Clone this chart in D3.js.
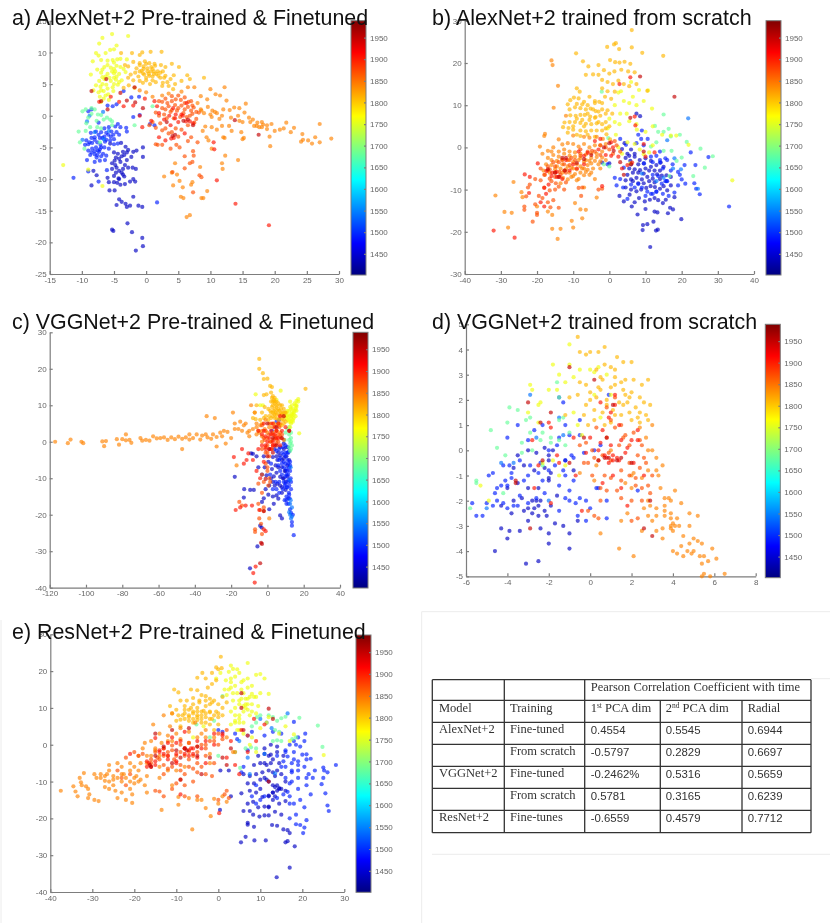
<!DOCTYPE html>
<html>
<head>
<meta charset="utf-8">
<title>PCA scatter plots</title>
<script src="https://cdn.jsdelivr.net/npm/d3@7"></script>
<style>
  html, body { margin: 0; background: #fff; }
  svg { display: block; filter: blur(0.55px); }
  .axis path, .axis line { stroke: #7d7d7d; stroke-width: 1.2px; }
  .axis text { fill: #666; font: 8px "Liberation Sans", sans-serif; }
  .title { font-family: "Liberation Sans", sans-serif; fill: #111; }
  .serif { font: 12.5px "Liberation Serif", serif; fill: #333; }
  .num { font: 11.4px "Liberation Sans", sans-serif; fill: #333; }
</style>
</head>
<body>
<svg id="chart" width="830" height="923"></svg>
<script>
// year of each colour group, same for all five scatter plots
const groupYears = [1440, 1490, 1540, 1680, 1760, 1810, 1840, 1870, 1905, 1950];
const colorbarTicks = [1450, 1500, 1550, 1600, 1650, 1700, 1750, 1800, 1850, 1900, 1950];

// a) x,y pairs per colour group
const alexFine = [
 [-5.3,-18,-5.1,-18.2,-2.9,-17,-2.2,-18.4,-0.6,-19.3,-0.5,-20.6,-1.6,-21.3,-4.6,-14.1,-3.8,-13.6,-3.2,-13.9,-3,-14.4,-2.5,-14.2,-1.2,-14.2,-0.6,-14.4,-2,-12.8,-4.2,-13.2,-4.9,-11.8,-5.7,-11.8,-4.5,-10.6,-4,-10.9,-3.3,-10.8,-2.5,-10.4,-2,-10,-1.7,-10.4,-5.8,-10.5,-5,-9.5,-4.3,-9.9,-3.4,-9.6,-5.3,-8.4,-4.6,-8.2,-3.6,-8.4,-2.8,-8.2,-2.1,-8.2,-1.6,-8.4,-4.9,-7.1,-4,-7.3,-3,-7,-2.3,-6.5,-4.4,-6,-3.6,-5.7,-2.8,-5.4,-1.5,-5.5,-0.5,-5,-0.5,-6.5,-3.9,-4.3,-3.2,-4.9,-5,-5.8,-5.6,-4.4,-2,-5.7,-8.5,-11,-7.7,-9.4,-6,-9.8,-8.2,-8.7,
  -4.7,-6.6,-4.2,-6.8,-3.8,-6.4,-3.4,-6.2,-3,-5.8,-5.3,-7.5,-4.8,-7.8,-4.2,-8.7,-3.8,-9,-4.2,-10,-3.6,-9.3,-4.7,-9,-5,-10.5,-3.3,-7.8],
 [-11.3,-9.8,1.7,-13.7,-9,-8.8,-7.4,-10.4,-6.1,-8.6,-8,-7.3,-7.2,-7.1,-6.4,-7,-9.2,-7,-8.7,-6.2,-8,-6.1,-7.6,-6.2,-7.3,-5.7,-6.7,-6,-9,-5.5,-8.4,-5.2,-7.8,-5,-7.2,-5.3,-6.5,-5,-5.8,-5.2,-9.5,-4.6,-9,-4.5,-8.4,-4.3,-7.6,-4.2,-7.1,-4.6,-6.4,-4.1,-5.6,-3.9,-5,-3.7,-9.3,-3.9,-8.5,-3.5,-8,-3.4,-7.2,-3.5,-6.5,-3.3,-5.9,-3,-5.1,-3,-4.2,-3,-8.6,-2.7,-7.8,-2.5,-7,-2.6,-6.2,-2.7,-5.4,-2.5,-4.6,-2.6,-3.1,-1.9,-8.5,1,-9,0.7,-6,1.6,-5.2,1.5,-4.6,1.8,-3.5,3.9,-2.3,2.9,-1.1,3,-7.4,-1.1,-4.4,-1.3,-2,-0.2,-1,0.1,0.6,-1.3,1.3,-1.5,
  -8.5,-5.8,-8,-5.6,-7.5,-5.5,-7,-5,-7.7,-6.6,-7,-6.4,-6.2,-6.3,-8.8,-4.2,-8,-3.8,-7.4,-3,-6.8,-3.5,-6.2,-3.8,-5.5,-3.3,-5,-4.5,-4.4,-4.4,-6.5,-2,-5.8,-1.8,-4.8,-1.7,-4,-1.8,-3,-2.5],
 [-8.8,0,-9.2,-0.9,-6.7,0.6,-8,-2.6,-6.6,-3.7,-5.8,-2.4,-9.9,-3.8],
 [-10.3,-4.2,-10.5,-2.5,-9.9,0.7,-9.4,1,-9,-0.3,-8.5,1.2,-8,1,-8.5,0.3,-7.5,0.2,-7,0.1,-7.7,-0.8,-6.6,-0.6,-6.1,-0.3,-5.6,-0.6,-5.3,-0.9,-9.4,-2.4,-8.7,-1.8,-7.6,-1.8,-7,-2,-5.3,-1.5,-9.3,-1.2,-9.6,-5.2,-7.2,-4.2,-1.8,-1.5,1,1.5],
 [-12.9,-7.8,-6.8,-11.1,-9,-8.5,-6.8,12.3,-5.3,12.9,-2.8,12.6,-7.3,11.4,-5,10.5,-4.6,11.1,-5.6,10.4,-7.8,9.9,-7.4,9.5,-6.3,9.9,-8.3,8.6,-7,8.8,-6,8.7,-5,8.4,-4,9,-3,8.9,-6.5,7.7,-5.5,7.6,-4.6,7.9,-3.5,7.4,-7.6,7.3,-8.6,6.5,-7,6.8,-6,6.6,-5,6.7,-4.2,6.6,-3.2,6.9,-6.5,5.8,-5.5,5.5,-4.7,5.7,-3.8,5.6,-7.3,5.5,-7.8,4.8,-7.1,4.6,-6.2,4.9,-5.2,4.5,-4.4,4.9,-7.4,3.7,-6.6,3.9,-5.9,3.4,-8.2,4,-7.2,3,-6.6,2.7,-7,2.2,-5.8,2.5,-5.1,3.9,-6.3,6.2,-5.3,7,-4.6,6.2,-6.8,7.3,
  -6,8,-5,7.4,-4.8,7,-4,7.7,-6.8,6.1,-5.7,6,-5,6,-4.2,5.3,-6.8,5,-6,4.3,-5,5,-7,4,-6.3,3.2,-5.2,8.8,-4.5,8.9],
 [-3.9,9.9,-2.2,9.9,-1,9.6,-0.6,10,0.7,10.1,2.4,10.1,-2,8.5,-1,8.3,-0.2,8.6,0.5,8.3,1.3,8.2,2.3,8,3,7.7,4,8.2,5.1,7.7,-2.4,6.5,-1.5,7.5,-0.7,7.1,0.2,7.5,1,7.4,1.8,7,2.6,7,-2,5.6,-1.2,6.2,-0.3,6.5,0.5,6.3,1.2,6.6,2.2,6,3,6.3,3.8,5.8,-2.7,4.8,-1.8,4.4,-0.5,5.2,0.6,5,1.5,5.3,2.5,4.7,3.5,4.7,4.5,5,6.4,6.4,6.8,5.8,9,6,-0.4,7.8,0.7,7,1.4,7.9,-1,7,0,6,1.9,6.3,-3.5,4.4,
  -1,8,-0.4,7.4,0.2,7,0.8,7.7,1.2,7,0,8.2,-0.5,6.7,0.4,6.6,1,6.2,1.6,6.6,2.2,6.8,2.8,6,-1.7,6.8,-2.8,7.8,-2.8,6,-3.3,8,2.6,5.2,3.3,5.3,4.3,6.4,1,5.6,0,5.6,-1,5.5,4.2,4.2,5.5,5.5],
 [8.5,3.1,9.5,2.6,10,4.2,10.8,3.4,11.5,3.2,12.2,4.5,12.5,2.4,10,0.2,9.6,1.4,10.3,0.8,11,0.4,12,1,11.8,0,13,0.9,13.7,1.3,14.5,1.2,15.5,1.9,14.3,0,15.3,0.5,16,-0.3,16.6,-0.6,17.3,-1.1,18,-1,18.8,-1.5,19.5,-1.3,16.8,-1.6,17.6,-1.8,18.8,-2.1,20,-2.4,20.8,-2.2,21.4,-2,21.8,-1.1,22.5,-2.6,23,-1.9,24.3,-2.9,24.1,-4.1,24.4,-3.8,25.2,-3.9,25.8,-4.4,26.3,-3.4,27,-4.2,27,-1.3,28.8,-3.6,19.2,-3.3,19.3,-4.8,15.2,-3.5,15,-3.7,14.8,-2.6,13.3,-2.4,12.9,-1.6,11.8,-1.6,11,-2.2,10.2,-1.8,9.2,-1.7,8.8,-2.4,9.4,-3.4,9.7,-3.9,10.2,-5.2,12,-3.4,12.2,-3.5,12.3,-6.3,11.8,-7.5,11.9,-8.4,14.3,-7,8,2,8.5,1,7.5,4.5,6.5,4.5,5.5,3.8,3.5,3.5,2.5,3.2,6.3,-16,6.8,-15.7,2.8,-9.6,4.5,-7.5,4,-9,4.8,-9.3,5.2,-10.3,4.2,-11,5.7,-11.3,5.4,-12.8,5.8,-13,8.6,-13,8.9,-13,9.5,-11.9,7.2,-10.5,7,-10.9,8.4,-8.1,
  8.6,0.8,9,0.4,10.2,-0.2,10.7,0.6,11.4,-0.5,13.2,-0.3,14.5,-0.8,15,-1,16.2,-1,17.2,-1.6,18,-1.8,18.2,-1.4,-1,4,0,3.7,1,3],
 [0.5,-1.5,1.5,-1.9,2.5,-2.3,3.5,-2.8,4.6,-2,5.5,-2.2,6.5,-1.5,7.5,-1.1,2,2.3,3,2.7,4,3.1,5,3.2,6,2.9,7,2.3,2.5,1.2,3.5,1.5,4.5,1.7,5.5,1.6,6.5,1.4,7.4,1.3,8.2,0.5,1.5,0.5,2.8,0.2,3.8,0.6,4.8,0.8,5.8,0.4,6.8,0,7.8,-0.5,1.8,-4.6,2.5,-4.6,1.5,-4.5,3.8,-5.2,4.7,-4.6,5.2,-5,6,-6.4,7.3,-5.6,7.2,-7.3,6.8,-7.5,7.4,-6.3,8.3,-9.4,8.6,-9.7,6,-8.3,4.1,-8.9,7.3,-12.1,6.5,-4,7,-3.4,8,-4.2,
  2.5,2.2,3.3,2,4,2.3,4.6,2.6,5.4,2.5,6,2,6.6,2.2,7.2,1.6,3,1,4,0.9,5,1.2,6,1,7,0.8,2,0,3.2,-0.4,4.3,-0.4,5.3,-0.2,6.3,-0.2,7.2,0.3,7.8,0.6,1,-1,2.2,-1.2,3,-2,4,-2.6,5,-3.3],
 [19.1,-17.3,13.9,-13.9,11,-10.2,10.6,-5.3,10.5,-4.2,5,-1,5.5,0.2,6.2,-0.9,4.5,-0.4,3.8,-1.5,6,-2.8,2,-3.4,3,-3.9,1.7,1.5,1.3,2.3,-0.2,2.7,-2,1.6,-3.5,1.5,-4.2,2.2,-5.5,3,-7.3,2.2,-1,0,0.8,-0.8,
  3.6,0,4.6,0.2,5.7,0,6.8,-0.9,7.3,-1.2,2.8,-0.6,6.3,2,4.2,1.2,-0.6,-1.8,2,0.4,4.3,-3.5,3.9,-3.6],
 [-8.5,3.9,-6.2,5.8,-7,2.3,-1.7,2.1,-0.5,1.2,3.2,-1,4.1,-3.2,4.5,-3,5.8,-0.8,6.5,-0.6,7.3,-1.5,13.8,-0.7,17.5,-3,-1.8,4.5,-4,3.6,-3,2.4,-6,1]
];

// b)
const alexScratch = [
 [11.3,-23.6,9.2,-19.6,9.3,-18.4,10.5,-18.2,12.2,-17.6,12.9,-19.7,13.4,-19.5,7.8,-15.9,10,-14.6,12.5,-15.2,13.3,-15.4,16.2,-15.6,16.8,-14.3,17.6,-14.7,19.9,-17,8.2,-12,9.8,-12.8,11.2,-12.4,12.5,-12,13.5,-12.5,14.8,-13.2,15.6,-12.4,5.6,-11.2,6.2,-14,7,-13,4,-12.8,2.8,-11.5,4.5,-9.5,6,-10,7.5,-10.4,8.8,-10,10.2,-9.6,11.4,-9.2,12.6,-9.4,14,-9.8,15,-9.2,16,-10.2,17,-9,18,-11.8,4.5,-7.8,6,-7.6,7.5,-7.2,9,-7.6,10.5,-7,12,-7.4,13.2,-6.4,14.5,-6.7,15.8,-6.6,17,-7,5.5,-5,7,-5.2,8.5,-5.4,10,-5,11.5,-4.6,13,-4.2,14.2,-3.6,15,-4.6,4.5,-2.5,5.8,-3.2,7,-2.2,8.4,-3,10,-2.6,6,-0.5,3.5,-0.4,4.2,1,-2,-3.6,0,-3.8,7.5,8,8.5,7.4,
  6.5,-8,8,-8.5,9.5,-8.5,11,-8,12.5,-8.3,14,-7.5,5,-6.5,6.5,-6,8,-6,9.5,-6.2,11,-5.5,12.5,-5.5,14,-5.5,6,-4,8,-4,9.5,-3.8,11.5,-3.2,5,-1.5,7,-1.5,5.5,-2],
 [33.1,-14,2,-9,3,-7.5,1.5,-7.2,3.8,-9.5,5,-12.2,6,-8.8,8,-8.7,10,-11.5,11.5,-11,13,-10.5,14.8,-11,16.4,-11.5,18,-10.7,19,-9,20,-7.6,21,-8.6,23.5,-8.5,24,-9.8,25,-11.1,16,-8,19.5,-6.5,20.8,-4.2,19,-5.8,17.5,-4,15.5,-2.6,23.8,-4.2,27.4,-2.3,22.5,-1.2,14,-3,11.5,-2.2,9.5,0.5,8.8,2,10.6,2,9,4,14,-3.6,3,2,4.6,0.6,9.6,-3.8,-0.5,-4,4,-4.8,
  13,-10.5,15.5,-8,12,-11,10.5,-10.5,17,-5.5,15.8,-8,14.5,-8.6,7,-9.5,9,-9.5,12,-6.5,13.5,-6.8,14.8,-5,16,-3,13,-2,14,-1,12,-3.5,7.5,1,8,3],
 [21.8,6.9,24.5,-9.8,15,-7.2,13,-8,9,-6.2,16,1.7,18,-2.6,17.6,-5,19.8,-5.2],
 [28.6,-2.1,26.4,-4.8,25.2,-0.3,23.2,-6.8,21.4,1.3,19.5,3,16.4,4.4,15,7.8,15,3.7,13.5,3.7,12.6,5.1,17,2.6,17.2,-0.8,20,-2.4,18.6,-3.2,15,-0.8,13,1.2,11.5,0.2,16.6,-6.8,-1.5,-4,-0.3,2.2,-2.1,13.2,0,-4.5],
 [34,-7.8,21.9,0.6,18.5,2.8,17,2.8,14.6,3,12,5,10,3.7,12,0.5,11,-1.2,9.5,-1.6,8.4,-0.5,7,0.8,5,1.2,3.5,-1.5,2.5,0,5.8,-3.8,11.8,9.2,10.7,13.5,9.5,11,8.2,13.6,7.5,10,6.5,12,5.5,10.5,4,11,3,8,2.5,13,1.5,10,2.8,5.5,4.8,8,5.5,6.2,7.5,5.5,1.5,6,0,6.8,-0.5,4.5,1.8,3,7.6,4.2,3.2,13.3,6,15.5],
 [0.2,1.9,1.3,24.4,1.8,24.7,-0.6,23.8,2.7,23.3,6.2,27.8,6.2,23.7,9.1,22.4,14.9,21.7,-9.2,22.3,-7.3,20.4,0.2,20.7,1.6,20.2,2.8,20.1,4.2,20.3,5.8,19.8,-5.8,19.2,-3,19.5,-1.5,18.3,0,17.5,1.4,18,3.3,18.4,5.2,18,7,17.8,-6.5,17.2,-4.5,17.3,-3,17.2,-2,16,-0.5,15.5,1,15,2.5,15.8,4,15,5.5,14.5,7.5,15,10.5,13.4,-9,14,-8.2,13.2,-2,14,-0.5,13.3,1.5,13.2,-1.2,12,0.5,11.5,-2.8,10.8,-4,11,-5.5,12,-7,10.8,-8.5,11.6,-9.8,11.8,-10.8,11.2,-11.5,10.2,-11,9,-9.5,9.5,-8,9.3,-6.5,9,-5.2,9.2,-3.8,8.6,-2,9,-0.5,8.8,-10.8,7.6,-9.3,7.5,-8,7.7,-6.8,7.7,-5.3,7.3,-3.8,7.2,-2.5,7.5,-11,6,-12.4,5.9,-9.5,6,-8,5.8,-6.5,5.6,-5,5.5,-3.5,5.7,-2,5.5,-12.8,4.8,-11.3,4.6,-10,4.2,-8,4,-6.5,3.8,-5,4,-3.5,4,-2,4,-0.8,3.1,
  -10,5,-11.5,3.5,-9,3,-7,5,-5.5,6.5,-4,7,-3,6,-1,6,-7.5,6.5,-9,6.8,-6,8,-4.5,9,-3,8.5,-6,10,-7.5,10.2,-9,10.3,-4,10.5,-2,10.5,-1,8,0.8,8,0,5,-1,4.5,-4,2.5,-6,3,-8,2.7],
 [-16,20.6,-15.7,19.5,-14.2,14.6,-15.4,9.4,-12,7.5,-10,2.8,-7,2.5,-5.5,2.3,-3.5,2.5,-1.8,2,-17.8,3.2,-18,2.7,-19.2,0.2,-17,-0.8,-15.5,0,-14,1.9,-13,0.7,-11.5,1,-10,0.8,-8.5,0.2,-7,0.8,-5.5,0,-4,0.5,-2.5,0.5,-1,0.8,-18.5,-1.5,-17,-2.5,-15.5,-1.8,-14,-1,-12.5,-1.5,-11,-1,-9.5,-1.2,-8,-1.5,-6.5,-1.7,-5,-1.4,-3.5,-1.5,-2,-1,-17.5,-4,-16,-4.2,-14.5,-3.2,-13,-2.9,-11.5,-3,-10,-3.5,-8.5,-3,-7,-3.4,-5.5,-3.2,-4,-3.2,-2.5,-3.3,-18.2,-5.5,-16.5,-6,-15,-5.2,-13.5,-5,-12,-5.2,-10.5,-4.8,-9,-5.2,-7.5,-5,-6,-5.3,-4.5,-5,-2.5,-5,-12.8,-7.2,-11.5,-7.6,-10,-6.8,-8.5,-7.5,-7,-6.6,-5.5,-6.5,-4,-7.5,-13.5,-8.5,-7,-9.5,-3.5,-11.9,-9.5,-13.2,-8,-14.7,-6.5,-14.8,-7.5,-16.8,-24,-11.8,-24.3,-10.6,-31.5,-11.4,-26.5,-8.2,-29,-15.3,-27,-15.5,-28,-19,-15.8,-16,-15.8,-19.3,-14.3,-21.7,-13.5,-19.3,-10.4,-17.4,-10,-19,-17,-15.2,-20,-14,
  -16,-3,-14.5,-4.5,-13,-4,-11.5,-4.5,-10,-5,-9,-4,-8,-4.5,-7,-5,-6,-4.2,-5,-3.8,-16,-1,-14,-2.2,-12.5,-0.5,-11,-2,-9.5,-2.2,-8,-2.5,-6.5,-3,-5,-2.5,-3.5,-2.3,-2,-2.4,-13,-6,-11,-6,-9.5,-6.3,-8,-6,-6.5,-5.8,-5,-6,-10.5,-7,-9,-7.8,-3,-4,-1,-3],
 [-23,-11.6,-23.5,-14.8,-23.5,-14,-20.5,-13.5,-20,-15.5,-21.2,-17.6,-20,-16,-18.5,-12,-17,-13,-16.3,-14.2,-15.5,-12.5,-14,-14.3,-19.5,-11.5,-18,-9.5,-16.5,-10.2,-15,-10,-14,-9.3,-12.5,-10,-8.5,-9.6,-7.5,-9.5,-7.8,-11.5,-3,-10,-2,-9.8,-19,-7.8,-17.8,-6.5,-16.5,-7.4,-15,-7,-13.5,-6.5,-12,-6,-11,-4.2,-19,-5,-17,-5.5,-15,-4.5,-12.5,-4,-10.5,-2.5,-8,-0.5,-4.8,-0.8,-2.5,-1.8,3,-1,1.5,1.5,-22.5,-9.5,-20.5,-7.5,-22,-8.8,
  -18,-6.5,-16.5,-5.2,-15,-6,-13.8,-5.8,-12.5,-5.5,-17,-4.5,-15.5,-3.5,-14,-3.5,-13,-3,-11,-3,-9.5,-3,-8,-2,-6,-1,-4,-1,-2.5,0.5,-1,0,1,-1.5,0,-0.5,2,0.5,-16,-8,-14.8,-8.5,-12,-8.3],
 [-32,-19.7,-26.2,-21.4,-23.4,-6.4,-22,-7,-22.2,-10.8,-19.8,-3.8,-17.4,-5.6,-16.8,-8.8,-15.8,-6,-14.6,-5.8,-13.8,-7,-12,-3,-10,-4,-8.5,-1,-7,-2,-2,-9.2,-1,-1.8,1,0,0.5,-2,2.8,15,5.8,16.6,-4,1.5,-2.5,2,0.5,1.2,2.5,-2.2,5,-4.2,3.5,-5,6.3,-3.6,7.2,5.2,7,7.3,9.5,0.8,12.5,-1.2,10,-2.2,
  -16,-6.8,-14.5,-7,-13,-7.5,-11,-5.5,-9,-5,-7,-4,-6,-1.3,-3,-0.5,-18,-9.6,-17.5,-11,-19,-13,-18,-14],
 [18,12,5.8,7,8.5,16.8,-14,-7,-15,-6,-12.3,-5.5,-13,-2.5,-7,-2.8,-5,-1.8,-1.5,0,0,1,1.2,-0.8,3,-3.5,4,-6.5,6,-4,9.5,-1,-12,-2.5,-9,-3.7,-17,-5.2]
];

// c)
const vggFine = [
 [-5.5,-28.7,-9.6,-34.7,-9.5,-13.2,-18,-9.6,-12.8,-13,-13,-15.3,-7.5,-13.2,-4,-23,-3.2,-23.5,-2,-15.5,-1,-13,0.5,-14.5,1,-12,3,-15,5,-14.7,6,-15.6,8,-12.5,10,-13.2,2,-10,3.5,-9.5,5,-8.5,7,-9.6,8.5,-10,10,-11,-0.5,-9.2,-3,-9,-1.5,-7,0.5,-5.5,2.5,-7.5,4.5,-6.5,6,-7,8,-7,9.5,-8,11,-6.5,3,-4.2,5,-4,7,-3.8,9,-4.5,10.5,-4,12,-5,7,-20.2,8,-21,1,-18.5,3.5,-17,-3,-16.5,-9,-3.2,-8,-3.3,-6,-4,-5,-7,-2,-4,
  3,-11,4,-12,5.5,-11.5,7,-12,8,-14,9,-10,10,-8,11,-9.5,8,-5,9,-2,5.5,-5,6,-3,4,-2,7,-1.5,9,-0.5,10.5,-1.5],
 [14.5,-25.6,13.5,-23,13.5,-22,14,-20,13,-19.5,12.5,-18.5,11.6,-17,12.2,-15.5,11.8,-14,13,-13,12,-12,13,-11,11.5,-10.5,12.8,-10,11.5,-9,12.5,-8,11,-8,10.5,-7.5,12,-7,10,-6,11.5,-6,12.5,-5.5,9,-5.5,10,-3,11.5,-3,8,-3,6.5,-2,8.5,-1.5,10,-1,11.5,-1.5,6.5,-5,8.5,-13,9.5,-16,10.5,-17,10.5,-15,11,-12.5,9.5,-12,10,-9.5,8,-9,6.5,-11,4.5,-11,5,-13,3,-13,6.5,-14,1.5,-9,2,-6,2.5,3,5,5.5,6.5,6,
  11,-3,12,-2.5,10,-4,11,-5,12.5,-6.5,9,-7,10.5,-9,11.5,-11,10,-11.5,9,-11,10.5,-12.5,12,-14.5,11.5,-15.5,10.5,-16,7,-8,8,-6,9,-3.5,5,-2.5,7,-4.5,6,-6.5],
 [13,-21,13.5,-20.5,12.5,-20,12,-19.3,13.5,-18,12.5,-17,12.8,-16,12.5,-10.5,12.8,-7],
 [12.5,-2.5,13,-2,12,-1.5,13.5,-1,13,0,12,0.5,13,1,12,2,13,2.5,12.5,-0.5,11,3.5,12,4,9.5,0.5,10,2.5],
 [14.5,8,15.5,9,16,10,15,10.5,13.5,7,14,6,13,5,12,6,11.5,7.5,12,8.5,13,9,13.5,8,14.5,6.5,12.5,4,17.5,2.3,17,11.7,13.5,10,12.5,11,11,7,10,7,10.5,8,14,5.5,15.5,7,17,11,16,11.2,-6.5,13,-2.5,10,-4,10,7.3,14,5,11.5,
  13,6.5,13.5,7.5,14.5,7.5,15,8.5,15.5,10,16,9.5,12.5,7,12,5.5,11,6,12.5,9.5,14,9,11,8.5,10.5,6.5,13,5.5,16,8.5],
 [-4.5,22.7,-4.5,20,-2.5,18.8,-2,17.2,0,17.3,21,14.5,1.5,15.3,2.5,15,2,13.5,-0.5,13,-2,12.8,2.5,12,3.5,11.5,4,10.5,5,11,2,11,3,10,4,9,5,9.5,6,9,7.5,9,5,7.5,6.5,7.5,8,7.5,3,8,1.5,8.5,0.5,9,-1.5,9.5,-3,8,-6,10,-7,8,-8,6.5,-6.5,6.2,-4,6,8,10,9,9,10,8,2,6.5,4,6.5,6,5,8,6,9,6,10,5.5,3.5,5,-3,5,-1,7,1,7,
  3,12.5,4,12,2.5,9.5,3.5,8.5,4.5,8,5.5,8.5,6.5,8.5,7.5,8,8.5,8,7,6.5,6,6,5,6.5,4,7.5,3,7,2,8,0.5,6,-2,6.5,9,7,9.5,8,7,10,6,10.5,5,10,4,11,3,11,9,5,8,4.5,7,4.5],
 [-117,0,-110,-0.4,-108.5,0.6,-102.5,0,-101.5,-0.4,-91,0.1,-90,-1.2,-89,0.2,-83,0.7,-81.8,-0.8,-80,0.7,-78,2,-78,0.4,-76,0.5,-75,-0.3,-70,1,-69,0.3,-67,0.5,-65,0.3,-63,1.5,-61,0.9,-59,1,-57,1.2,-55,0.5,-53,1.2,-51,0.7,-49,1.4,-47,0.8,-47,-2,-45,1.2,-43,0.6,-43,2,-41,1,-39,2,-37,0.6,-36,1.7,-34,2,-33,1.2,-33.5,7,-31,0.8,-30,2,-29,6.5,-28,1.3,-28,-1.3,-26,2.5,-25,1.5,-24,3,-23,-0.5,-22,2.7,-20,1,-19,8,-18,3.5,-18,5,-17,-6.5,-16,3.5,-15,5.5,-14,3,-13,4.5,-12,5,-11,2.5,-10,1.5,-9,10,-8,3.5,-7,8,-6,5,-5,3,-3,3,-1,6,1,4,3,2.5,5,3,7,2.5,-3,0,1,-21,
  -6,2,-4.5,2.5,-3,1.5,-1.5,3.5,0,2.5,1,5,3,4,5,4.5,7,5,-10,3,-6,4,-4,4.5],
 [-1,-1.5,0,-3,-1.5,0.5,0,1,1.5,0,3,0.5,4.5,1.5,6,0,7.5,1,9,0.5,-3,-14,-5,-11.5,-3,-9,0,-7,1,-10,0.5,-12,3,2,5,3,6.5,4,-3,4.5,-1,3,2,5,-5,-17,-4,-18.7,-4.5,-21,-3.5,-22.5,-6.8,-24.7,-6.8,-24,-3,-25.3,-15.5,-16.5,-14,-17.5,-2,-19,-2,-18,
  -1,-3,0,-1,1,2,2,0,3,-1,4,1,5,-0.5,6,2,7,1.5,8,2,-2,1,-3,-2,-1,-6,1,-4,2.5,-2,0,-8,-2,-11,1.5,-11,5,0.5],
 [-7,-38.6,-7.8,-36,-6.5,-34.2,-17.5,-18.7,-15,-18,-12,-17.5,-8.5,-17.5,-4.5,-18.7,-1,-24.5,-2,-24,-18.5,-4.2,-11.5,-5,-13,-6,-10.5,-3.2,-14,-2,-5,-2,-3,-1,-1,-2,1,-2,3,-1,5,1,7,-1,-3,2,-1,1.5,2,3,4,4,6,5,8,3,10,4,12,3,-5,3,-2,5,7,7,-8,-5,-6,-8,-4,-10,-2,-5.5,
  0,0,2,-2,3,0,4,2,5,3,6,1,-1,-1,1,1,-2,3,2,2,4,-1,3,5],
 [-4,-33.3,-3,-28,-3.5,-27.7,-1,-10.2,0,-4,1,-2,3,-3,5,-1,8,1,9,7,12,3,-2,-19,0,5,5,4,3,1]
];

// d)
const vggScratch = [
 [-3.1,-4.5,-2.5,-4.4,-4.6,-4,-4,-3.5,-2,-3.7,-1,-3.9,-3.9,-3.2,-3.4,-3.2,-2.4,-3.1,-2,-3.3,-1,-3.3,-1.3,-3,-4.3,-3.1,-3,-2.8,-1.7,-2.9,-0.6,-2.8,-3.8,-2.5,-3.2,-2.4,-2.8,-2.5,-2.5,-2.2,-2.1,-2.6,-3.7,-2,-3.3,-1.9,-2.8,-2,-2.4,-2,-1.9,-2.2,-4.3,-2.2,-4,-1.5,-3.5,-1.3,-3,-1.5,-2.5,-1.5,-2,-1.2,-1.6,-1.8,-3.7,-0.7,-3.2,-0.6,-2.7,-0.8,-2.2,-0.7,-2,-0.4,-3.5,-0.2,-3,0,-2.6,-0.1,-2.2,0.1,-1.8,0,-1.2,-0.4,-0.8,-0.8,
  -2.7,-2.3,-2.5,-2.6,-2.2,-2.4,-2,-1.1,-1.9,-0.9,-2.6,-2,-3,-2.3,-2,-0.2],
 [-5.7,-2.1,-5.5,-2.6,-5.2,-2.6,-5,-2.1,-4.7,-2.2,-4.5,-2,-4.2,-2.1,-4.6,-1.7,-4.3,-1.4,-4.5,-1.5,-4.9,-1,-4.7,-0.9,-4,-1.4,-3.8,-1.1,-4.2,-0.6,-3.9,-0.6,-3.4,-0.4,-3,-1,-2.5,-0.9,-2,-0.8,-1.5,-1.4,-1,-1.6,-0.5,-1.9,-0.2,-2,0.3,-1.5,-1.5,-2.4,-1,-2,-0.6,-2.6,-0.2,-2.8,0,-2.3,0.4,-1.5,0.8,-2,0.8,-2.7,-1.2,-0.4,-0.8,-0.3,-0.3,-0.1,0.2,0,0.5,0.2,-1.5,0.5,-1,0.6,-0.5,0.6,-3,0.4,-2.7,0.8,-2.3,1,-3.5,1,-4,0.5,-1.2,1,-0.5,1.2,-1.5,2.1,-1.3,1.9,0.9,2.2,-1.2,-1,2.3,-1.6,-0.8,-1.2,
  -3.5,-2.2,-3,-2.1,-2.6,-1.9,-2.2,-1.7,-3.4,-1.8,-2.9,-0.6,-2.3,-1.2,-3.8,-0.9,-1.7,-0.6,-1.3,-0.8,-1.2,-1.9,-0.7,-2.1,-0.9,-0.2,-4.1,-1.2,-4,-2.3,-3.7,-2.2,-2,0,-1.6,0.2,-2.4,-0.5,-3.2,-1.2],
 [-2.9,2.2,-2.6,0.5,-1.5,1.3,-4.3,-0.5,-3.7,-0.5,-5,-2.3,-2,-2,-1.3,0.6],
 [-5.8,-2.3,-5.5,-1.3,-5.5,-1.2,-4.8,0.8,-4.5,0.1,-4,1.1,-3.9,1.7,-3.5,1.6,-3.1,1.2,-2.9,1.3,-3.3,0.3,-2.9,0.7,-2.3,0.7,-1.9,0.5,-1.5,0.4,-1.2,0.2,-4.1,-0.2,-3.3,-0.1,-2.8,0,-2.4,0.4,-1.9,0.3,-1.5,1.2,-1.3,1.3,-1,0.7,-1.6,2.7,-1.5,2.1,-4.2,-1.7,-2.3,-0.6],
 [-5.3,-1.4,-4.9,-2,-3,1.5,-2.9,2.6,-2.8,2.4,-2.5,1.1,-2.5,1.8,-2.4,1.9,-2.3,-0.5,-1.8,-0.4,-1.5,-1,-1.2,-0.6,-1,4.2,-1.5,3,-1.2,2.7,-1.8,3.4,-2,2.4,-1.6,2.4,-0.5,3.2,0,3.2,0.2,3.1,0.4,3.3,0.8,3,-0.8,1.5,-0.6,1,-0.4,0.6,0.5,1.3,-1,3.4,-0.8,2.9,0.2,2.2,1,2.2],
 [-0.6,4.5,-0.5,3.9,-0.2,3.8,0,3.9,0.4,3.9,0.7,3.4,0.7,4.1,1.3,3.7,1.6,3.5,2,3.5,1,3.3,0.6,2.8,1.2,2.9,1.7,2.8,2.1,2.8,2.5,2.6,2.8,2.8,-0.5,2.7,-0.2,2.6,0,2.3,0.4,2.5,1.2,2.6,1.6,2.4,2,2.3,2.4,2.1,0.8,2,1.4,1.9,1.8,1.9,2.2,1.7,2.6,1.9,2.9,1.8,-0.2,1.8,0.2,1.6,0.6,1.5,1.1,1.6,1.5,1.4,1.9,1.5,2.4,1.5,2.8,1.2,-0.6,2.2,-1,2.1,-0.3,1.4,1,1.1,0.3,2.1,-1.2,1.4,
  0,2,0.5,2.4,1,2.5,1.5,2.7,0.8,1.8,1.2,1.4,1.6,1.8,2,1.2,2.3,1.3,0.2,1.2,-0.1,1,0.7,1,1.9,2.1,2.4,1.1,1.2,3.2,0.3,3.2,0.5,2.9,1.7,2.2,2.7,1.4],
 [3,1,2.4,0.9,2.7,0.5,3,0,3.2,-0.3,3.5,-0.6,2.8,-0.8,3.3,-1,3.4,-1.5,3.6,-1.9,3.9,-2,4.1,-1.6,3.6,-2.2,3.2,-2.3,2.9,-2.2,3.2,-2.6,3.6,-2.6,3.9,-2.5,4.4,-2.1,4.2,-2.7,4.8,-2.5,5.2,-2.6,3,-2.8,3.5,-3.1,3.9,-3,4,-3.2,4.3,-3,4.5,-3.4,4.8,-3,4.4,-3.8,4.8,-3.7,5,-3.5,5.2,-3.6,4.7,-4,5,-4,5.4,-3.7,5.5,-4.2,5.3,-4.2,5.4,-4.5,5.7,-4.4,5.9,-3.9,6.1,-4.3,5.8,-5,5.5,-4.9,5.4,-5,6.5,-4.9,3.5,-3.5,4,-4,4.2,-4.1,0.5,-3.3,1.5,-2.8,2.5,-3.2,1.8,-2.5,2.6,-2.3,2,-1.5,1.4,-3.9,2.1,-4.2,2.8,-2,2.5,-1.1,1.7,-1.3,2.1,-0.9,-0.5,-0.9,0.2,-1.2,
  2.8,0,3.2,-0.8,2,-1,1,0,0.3,-0.6,3.6,-2.4,3.8,-1.9,3.9,-2.7,4,-2.9,3.9,-3.1,4.1,-3,4.5,-4.2,4.9,-4.1,3.2,-3.2,2.8,-2.6],
 [0.3,0.9,0.8,0.5,1.2,0.9,1.6,0.5,2.1,0.7,2.5,0.2,0.6,-0.2,1,-0.4,1.4,0.2,1.9,0.2,2.3,-0.2,1,1.2,1.5,1,1.9,-0.5,2.4,-0.7,2.7,-0.5,3,-1,2.5,-1.5,2.9,-1.7,1.5,-1.2,1,-1.1,0.7,-1,0.4,-0.4,0.1,0,0.5,-1.5,1.5,-1.9,2,-2,2.5,-2,-0.5,0.2,-0.1,-0.5,0.8,1.7,1.2,2.1,0.5,-2,2.3,-2.7,2,-2.8,0.2,-2.6,0.4,-2.7,-0.1,-2.4,
  -0.2,0.3,0.2,-0.3,0.9,-0.1,1.7,0.6,2.4,0.4,2.6,-0.3,2.2,-1.1,1.3,-1.6,0.8,-1.6,0.1,-1,-0.3,-0.5,1.5,-0.8,1.9,-1,2.8,-1.4,2.2,-1.4],
 [0,0.5,0.4,0,1,0.2,1.3,-0.3,1.7,-0.1,0.8,-0.3,1.1,-0.4,2,0.4,2.3,0.8,2.1,-0.5,0.9,1.3,1.2,1.8,0.6,0.8,-0.2,-0.1,-0.8,0.5,-1.6,-0.2,-2.5,-0.6,-2,1.1,-1.5,-0.5,0.6,-1.3,1.1,-1,1.5,-1.5,1.8,-2.2,2.6,-1,-0.4,-2.4,-2.7,-1.5,-1.9,-2.1,-0.7,-1,-2.8,0.4,-1.9,0.9,
  0.7,-0.2,1.1,-0.2,1.4,-0.4,0.5,0.3,1.5,0.4,1.8,0.1,2.3,0.4,1,1.5,0.5,1.9,1.2,2.2,1.4,1,0.9,-0.5],
 [-1,3.3,-3,1.9,-1.9,1.5,-2.4,1.1,-1,-0.5,1.3,-0.4,0.7,-0.3,0.9,-0.3,1.5,-0.3,3,-3.4,2.6,-3.1,-2.9,-3.1,-3.6,-1.3,-0.3,0.5,1.1,1.8,-2.3,-0.4,0.4,-0.4,-3.6,-1.2,2,-0.5,0.2,2.8,2.9,-2,0.8,0.5]
];

// e)
const resFine = [
 [13.9,-36,17,-33.4,5.4,-26.5,6.5,-25,8.6,-26,11.3,-26,16,-26.5,16.5,-26.2,18.2,-27.6,7,-21.2,7,-21.7,8.5,-22.3,12.8,-21.8,14,-22,15.5,-23,16.5,-23.2,17,-24,6,-18,7.5,-18,8.3,-19,9.8,-19.5,11,-19.2,12,-19.2,13.5,-18.2,15,-19,7,-16,8.3,-15.5,9.5,-17,11,-16.8,12,-16.8,13,-15,14.5,-16,16,-15.3,5.5,-13.2,7.5,-12.5,9,-13,10.5,-14.2,12,-13.8,13,-13,14.5,-12,16,-12.5,7,-10.5,8.5,-10.5,10,-9.5,11.5,-9.5,13.5,-11.5,14.5,-11.8,16,-10,3,-14,6,-8,7.5,-8.5,9,-8,10.5,-7.5,12,-7,13.5,-8.5,15,-8,0.5,-7,2.5,-7,0.4,-17.7,8.5,-5.5,10,-5,11.5,-5.5,13,-4,14.5,-5,9.5,-3,11,-2.5,12.5,-2.7,14,-2,15.5,-3,11,-1,12.5,0,14,-0.5,
  12,-10,13,-11,14,-12.5,13,-13,12,-14,13.5,-14,14,-11,15,-12,12,-17,10,-12,11,-9,12.5,-5,13,-7.5,11,-5,14,-7,12,-3],
 [26.3,-18,26,-16.5,25.5,-13.2,24.6,-10.7,25,-9,25,-6.2,25.2,-7,26,-7.5,28,-5.5,21,-20.5,20.5,-22.5,20.2,-24,18.5,-21.6,19.5,-21.8,17,-20,18.5,-19,20.5,-17,18,-16,19.5,-15,22,-13.5,17,-14,19,-12,21,-11,17.5,-10,19,-9,21,-9,22.5,-9,17.5,-7.5,19,-7,20.5,-6,21.5,-8,23,-7,16,-6,17.5,-5,19,-4.5,21,-4,22,-3.8,16.5,-3.2,18,-2,20,-2.7,21,-2.6,16,-1.5,18.5,0,19.5,-0.5,19,2,20.5,1,20.7,3,18,6.2,15,3,13,3.5,11,2.5,8,3.5,1,3.5,0,4,4,3,7,-1.5,6,-6,5.5,-7.5,4.5,1.5,
  16,-9,17.5,-7,18,-4,19,-5.5,15,-6,14,-3,16,-2,17,0,18,1,15.5,-4.5,17,-10.5,15.5,-13.5,16.5,-12.8,17,-16,14,-14.5,9,-11,8,-14,9,-16,10,-15,11,-14],
 [16.5,8.5,12.7,4.5,11.5,6,10,7,5,1,7.5,-8,7,-3.5,11,-2.5,13.5,-7.8,7,2.5],
 [23.7,5.2,24.8,-0.6,19.3,7.3,18.5,2,17.6,1.5,16,7.6,15,7.2,14,6.5,13,7.5,12,8,10,8,9.2,7.5,9,6,13.5,4,14.5,3.5,15,1,14,1.2,13,1,7.8,-0.7,9,-1,6.5,-1,5.2,-6.3,-5.2,5.5,-1,6.5,-2,2,0,-3,4,-2,8,5,1,13.2],
 [25.1,-2.8,18,2.8,17,1,16,5,14.5,3,12,7.5,8,9,11.5,6,10,4.5,8,2,7.5,0,9,-2,-6,2,-3.5,5,7,11,6,10.5,5,12,4,8,5,6,4.5,4,4,6,3,9,5.5,15,5.5,17,7,15.5,7,18,8,13.8,7,12.5,6,14,3.5,12,3,15.5,2,13.5,1.5,15,3,18,4,18.5,5,19.5,6,17.5,7,22.2,8,16,9,19,10,19.2,11,18,12,13.8,10,14,9,13,6.5,12.5,8,11,9.5,10.5,7.5,8,9,8.5,6.5,10,3.5,20.6,2.5,19.8,3,21.5,4.5,20.5,3,17,4,16,1.8,17.5,-0.5,18,0.5,19.5,4,10,3,5.5,5,8,
  5,11,5.5,12.5,6.5,11,7.5,13,4.5,14,6,9,5,7,6,6,3.5,14,2.5,15,8.5,13,7,9.5,5,4,6,3,4,6.5],
 [0.6,23.9,-0.5,21,0,20.5,0.8,20.8,-1.5,19.5,-3.8,19.5,-5,18.2,-6.5,15,-4,13.5,-5,14.8,-4.5,11.5,-3,13.2,-2,12.5,-2.5,15.5,-3,18,-1.5,16.5,-0.5,17.5,-10.5,15,-9.5,14.2,-9,12,-7.5,12,-6,12.7,-4.5,12,-3,10.5,-1.5,11.5,0,11,1,13,1,10,2,11.5,-11.5,10.5,-10,9.5,-8,10.5,-6.5,10,-5,10,-3.5,9.2,-2,8.8,-0.5,9,-11,8.5,-9.5,8,-8,8.5,-7,8,-6,8.5,-5,8,-4,8,-3,7.5,-1.5,7,0,7.5,-9,6.8,-8,7,-7,6.5,-6,7,-5,6.7,-4,6,-2,5.5,0,5.5,
  -3,12,-2,11,-1,12,-6,11,-8,9.5,-7,9.5,-5,9,-4,9,-6,9,-7,7.5,-5,7.5,-6,6,-4,7,-3,8.5,-2,9,-1,8,-2,7,0,8.5,-1,4,1,8,-3,6,-8.5,8,-10,6.5,-9,5],
 [-37.5,-12.5,-34.5,-11.3,-34,-12.7,-33.5,-14,-33,-9,-32.7,-10.2,-32.5,-11,-31.5,-11.3,-31,-12,-30.7,-13.5,-31,-14.5,-29.5,-15,-28.5,-15.3,-29,-9,-28,-9,-27,-9.8,-27,-11.5,-26,-10,-26.5,-8,-26,-12,-25,-8.5,-25,-11,-24.5,-12.5,-24,-14.5,-23,-13,-23,-10,-22.5,-8,-22,-15,-21,-12,-20.5,-13.5,-20.5,-15.8,-20,-10.5,-19.5,-8.5,-18.5,-9.5,-19,-7,-17.5,-11,-17,-13,-17,-8.5,-24,-5,-26,-5.5,-26,-7,-32,-7.7,-29.5,-8,-28,-8,-23,-6,-21,-5,-20,-6,-19,-3,-18.5,-5,-17,-3,-16,1,-17.5,0.5,-15,-1,-14,-3,-13.5,0.5,-14,3,-12,2.5,-11.5,5,-15.5,5.5,-13,8,-11,8.5,-9,4.5,-7,3.5,-5.5,6,-3,2,-2,-2.5,-2,-5,-1,2,2,2,3.5,-2,4,-2,-11,-11,-13.5,-17.7,-6.2,-23,-9.5,-16.3,-9.5,-14.2,-7,-14.5,-5,-15,-4,-15,-3,-17.2,-1,-14.7,0,-16,1,-14,2,-15.5,-1.8,-19.4,
  -24,-9,-23,-8,-22,-9,-21,-7,-20,-9,-21,-10,-19,-10,-25,-9.5,-27,-8.5,-16,-3,-17,-5,-18,-1,-15,-1.5,-13,-1,-12,1,-10,3,-11,1,-9,1.5,-7,0.5,-5,2,-4,3,-3,4,-8,-6,-10,-7,-12,-7,-14,-6,-14,-9],
 [-18,-2.5,-19,-3,-16,-5,-14.5,-3.5,-13,-5.5,-12,-2,-11,-0.2,-10.5,-4,-9,-5.5,-8,-1,-7,-2,-6,-3,-9,-9.5,-8,-8,-6,-6.5,-5,-7.5,-4,-6,-3,-8,-1.5,-8.5,-13,-8,-15,-12.5,-14,-12.7,-13,-14,-11,-12,-10,-10.5,-8,-14,-8,-11,-6,-10,-5,-14,0,-15,1.5,-13.5,2,-12.5,2.5,-14.5,-9,0,-7,0.5,-5,-0.5,-3,0,-1,1,0,3,2,4,-1,-5,-3,-3,-20,-2,-22,-3.5,-24,-7,-21,-8,-23,-9,-22,-11,
  -16,-4,-15,-2,-14,-4,-12,-3,-11,-1.5,-10,-3,-9,-2,-8,-3,-7,-4,-5,-5,-5,-2,-4,0,-3,-1,-2,1,0,0,1,1.5,-11,-6,-9,-7,-7,-6,-12,-6.5,-13,-3],
 [0.2,-18.6,-17,-6,-16.5,-5,-15,-4.5,-14,-1.5,-13,-2.5,-12,-4,-10,-5,-7,-1.5,-6,-2.5,-4,-1,-3,1,-1,3,1,3,-8,3.5,-10,0.5,-10,-2.5,-12,0.5,-15,1.8,-17,-4.5,-21,-2.5,-9,-13.5,2,-3.5,-8,-1,-6.5,-1,-5,1,5,-8,7,-2,7,2.5,9,1,5.5,4,8.5,7,11,5.5,
  -8,-2.5,-7,-3,-6,-1,-10,-4.5,-12,-3,-13,-1,-16,-6,-15,-5.5,-14,-2,-11,2,-9,1,-5,-3.5,-3,-5,-1,0,1,2.5,3,1,4,-5.5],
 [-16.3,-5.5,-16,-6,-15,-3,-13,-0.5,-11,-5,-9,-3.5,-8,-1,-7.5,-1.5,-5,-0.5,-4,-8,-9,-9.5,2,-5.5,5.5,14,5.5,10,12,9.8,13,7,-5,-3,-10,-1.5,-11,4,-15,3,-7,4.5,-2,-3.5,12,-10,6,4,3,-1,1,-3.5]
];

// table contents
const tableSpanner = "Pearson Correlation Coefficient with time";
const tableHead = ["Model", "Training"];
const tableDims = [["1", "st", " PCA dim"], ["2", "nd", "  PCA dim"], ["Radial", "", ""]];
const tableModels = ["AlexNet+2", "", "VGGNet+2", "", "ResNet+2"];
const tableTraining = ["Fine-tuned", "From scratch", "Fine-tuned", "From scratch", "Fine-tunes"];
const tablePca1 = ["0.4554", "-0.5797", "-0.2462%", "0.5781", "-0.6559"];
const tablePca2 = ["0.5545", "0.2829", "0.5316", "0.3165", "0.4579"];
const tableRadial = ["0.6944", "0.6697", "0.5659", "0.6239", "0.7712"];

const svg = d3.select("#chart");

// matlab jet
const jet = d3.scaleLinear()
  .domain([0, 0.125, 0.375, 0.625, 0.875, 1])
  .range(["#000080", "#0000ff", "#00ffff", "#ffff00", "#ff0000", "#800000"]);
const yearColor = d3.scaleLinear().domain([1401, 1989]).range([0, 1]);

const grad = svg.append("defs").append("linearGradient")
  .attr("id", "jetBar").attr("x1", 0).attr("y1", 1).attr("x2", 0).attr("y2", 0);
grad.selectAll("stop")
  .data(jet.domain())
  .enter()
  .append("stop")
  .attr("offset", d => d)
  .attr("stop-color", d => jet(d));

function drawPanel(p) {
  const x = d3.scaleLinear().domain(p.xDomain).range(p.xRange);
  const y = d3.scaleLinear().domain(p.yDomain).range(p.yRange);
  const g = svg.append("g");

  g.append("g").attr("class", "axis")
    .attr("transform", `translate(0,${p.yRange[0]})`)
    .call(d3.axisBottom(x).tickValues(d3.range(p.xDomain[0], p.xDomain[1] + 1, p.xStep)).tickFormat(String).tickSizeInner(-3).tickSizeOuter(0).tickPadding(3));
  g.append("g").attr("class", "axis")
    .attr("transform", `translate(${p.xRange[0]},0)`)
    .call(d3.axisLeft(y).tickValues(d3.range(p.yDomain[0], p.yDomain[1] + 1, p.yStep)).tickFormat(String).tickSizeInner(-3).tickSizeOuter(0).tickPadding(3));

  // one flat x,y list per colour group
  p.data.forEach((list, i) => {
    const pts = d3.range(0, list.length, 2).map(k => [list[k], list[k + 1]]);
    g.append("g").selectAll("circle")
      .data(pts)
      .enter()
      .append("circle")
      .attr("cx", d => x(d[0]))
      .attr("cy", d => y(d[1]))
      .attr("r", 2.1)
      .attr("fill", jet(yearColor(groupYears[i])))
      .attr("fill-opacity", 0.65);
  });

  // colour bar
  const cb = d3.scaleLinear().domain([1401, 1989]).range(p.barY);
  g.append("rect")
    .attr("x", p.barX).attr("y", p.barY[1])
    .attr("width", 15).attr("height", p.barY[0] - p.barY[1])
    .attr("fill", "url(#jetBar)").attr("stroke", "#7d7d7d").attr("stroke-width", 1);
  g.append("g").attr("class", "axis")
    .attr("transform", `translate(${p.barX + 15},0)`)
    .call(d3.axisRight(cb).tickValues(colorbarTicks).tickSizeInner(-2).tickSizeOuter(0).tickPadding(4).tickFormat(d3.format("d")))
    .select("path").remove();

  g.append("text").attr("class", "title")
    .attr("x", p.titleX).attr("y", p.titleY)
    .attr("font-size", p.titleSize)
    .text(p.title);
}

drawPanel({
  title: "a) AlexNet+2 Pre-trained & Finetuned", titleX: 12, titleY: 25, titleSize: 21.4,
  data: alexFine, xDomain: [-15, 30], xStep: 5, yDomain: [-25, 15], yStep: 5,
  xRange: [49.7, 339], yRange: [274, 20.8], barX: 351, barY: [275, 20.7]
});
drawPanel({
  title: "b) AlexNet+2 trained from scratch", titleX: 432, titleY: 25, titleSize: 21.5,
  data: alexScratch, xDomain: [-40, 40], xStep: 10, yDomain: [-30, 30], yStep: 10,
  xRange: [464.7, 754], yRange: [274, 20.8], barX: 766, barY: [275, 20.7]
});
drawPanel({
  title: "c) VGGNet+2 Pre-trained & Finetuned", titleX: 12, titleY: 329, titleSize: 21.4,
  data: vggFine, xDomain: [-120, 40], xStep: 20, yDomain: [-40, 30], yStep: 10,
  xRange: [49.7, 340], yRange: [587.7, 332.3], barX: 353, barY: [588, 332.3]
});
drawPanel({
  title: "d) VGGNet+2 trained from scratch", titleX: 432, titleY: 329, titleSize: 21.4,
  data: vggScratch, xDomain: [-6, 8], xStep: 2, yDomain: [-5, 5], yStep: 1,
  xRange: [466, 755.7], yRange: [576.3, 324.3], barX: 765.3, barY: [577.7, 324.3]
});
drawPanel({
  title: "e) ResNet+2 Pre-trained & Finetuned", titleX: 12, titleY: 639, titleSize: 21.4,
  data: resFine, xDomain: [-40, 30], xStep: 10, yDomain: [-40, 30], yStep: 10,
  xRange: [50.3, 344.3], yRange: [892, 634.3], barX: 356, barY: [892.3, 635]
});

// table on the lower right
const colX = [432.3, 504.3, 584.7, 660.3, 742, 811];
const rowY = [679.7, 700.3, 722.3, 744.3, 766.3, 788.3, 810.3, 832.7];
const textBase = [732.7, 754.7, 776.7, 799.3, 821.3];
const table = svg.append("g");

// faint page edges behind the table
const edges = [[421.7, 611.7, 830, 611.7], [421.7, 611.7, 421.7, 923], [432, 854.3, 830, 854.3], [811, 678.7, 830, 678.7], [1, 620, 1, 923]];
table.selectAll(".edge").data(edges).enter().append("line").attr("class", "edge")
  .attr("x1", d => d[0]).attr("y1", d => d[1]).attr("x2", d => d[2]).attr("y2", d => d[3])
  .attr("stroke", "#ececec");

table.selectAll(".hline").data(rowY).enter().append("line").attr("class", "hline")
  .attr("x1", colX[0]).attr("x2", colX[5])
  .attr("y1", d => d).attr("y2", d => d)
  .attr("stroke", "#333").attr("stroke-width", 1.3);
table.selectAll(".vline").data(colX).enter().append("line").attr("class", "vline")
  .attr("x1", d => d).attr("x2", d => d)
  .attr("y1", (d, i) => (i == 3 || i == 4) ? rowY[1] : rowY[0]).attr("y2", rowY[7])
  .attr("stroke", "#333").attr("stroke-width", 1.3);

table.append("text").attr("class", "serif").attr("x", 590.7).attr("y", 691).text(tableSpanner);
table.append("text").attr("class", "serif").attr("x", 439).attr("y", 711.7).text(tableHead[0]);
table.append("text").attr("class", "serif").attr("x", 510).attr("y", 711.7).text(tableHead[1]);

const dimX = [590.7, 665.7, 747.7];
tableDims.forEach((d, i) => {
  const t = table.append("text").attr("class", "serif").attr("x", dimX[i]).attr("y", 711.7);
  t.append("tspan").text(d[0]);
  if (d[1]) t.append("tspan").attr("font-size", 7.5).attr("dy", -4).text(d[1]);
  if (d[2]) t.append("tspan").attr("dy", d[1] ? 4 : 0).text(d[2]);
});

function tableColumn(values, xPos, cls, dy) {
  table.append("g").selectAll("text")
    .data(values)
    .enter()
    .append("text")
    .attr("class", cls)
    .attr("x", xPos)
    .attr("y", (d, i) => textBase[i] + dy)
    .text(d => d);
}
tableColumn(tableModels, 439, "serif", 0);
tableColumn(tableTraining, 510, "serif", 0);
tableColumn(tablePca1, dimX[0], "num", 1);
tableColumn(tablePca2, dimX[1], "num", 1);
tableColumn(tableRadial, dimX[2], "num", 1);
</script>
</body>
</html>
